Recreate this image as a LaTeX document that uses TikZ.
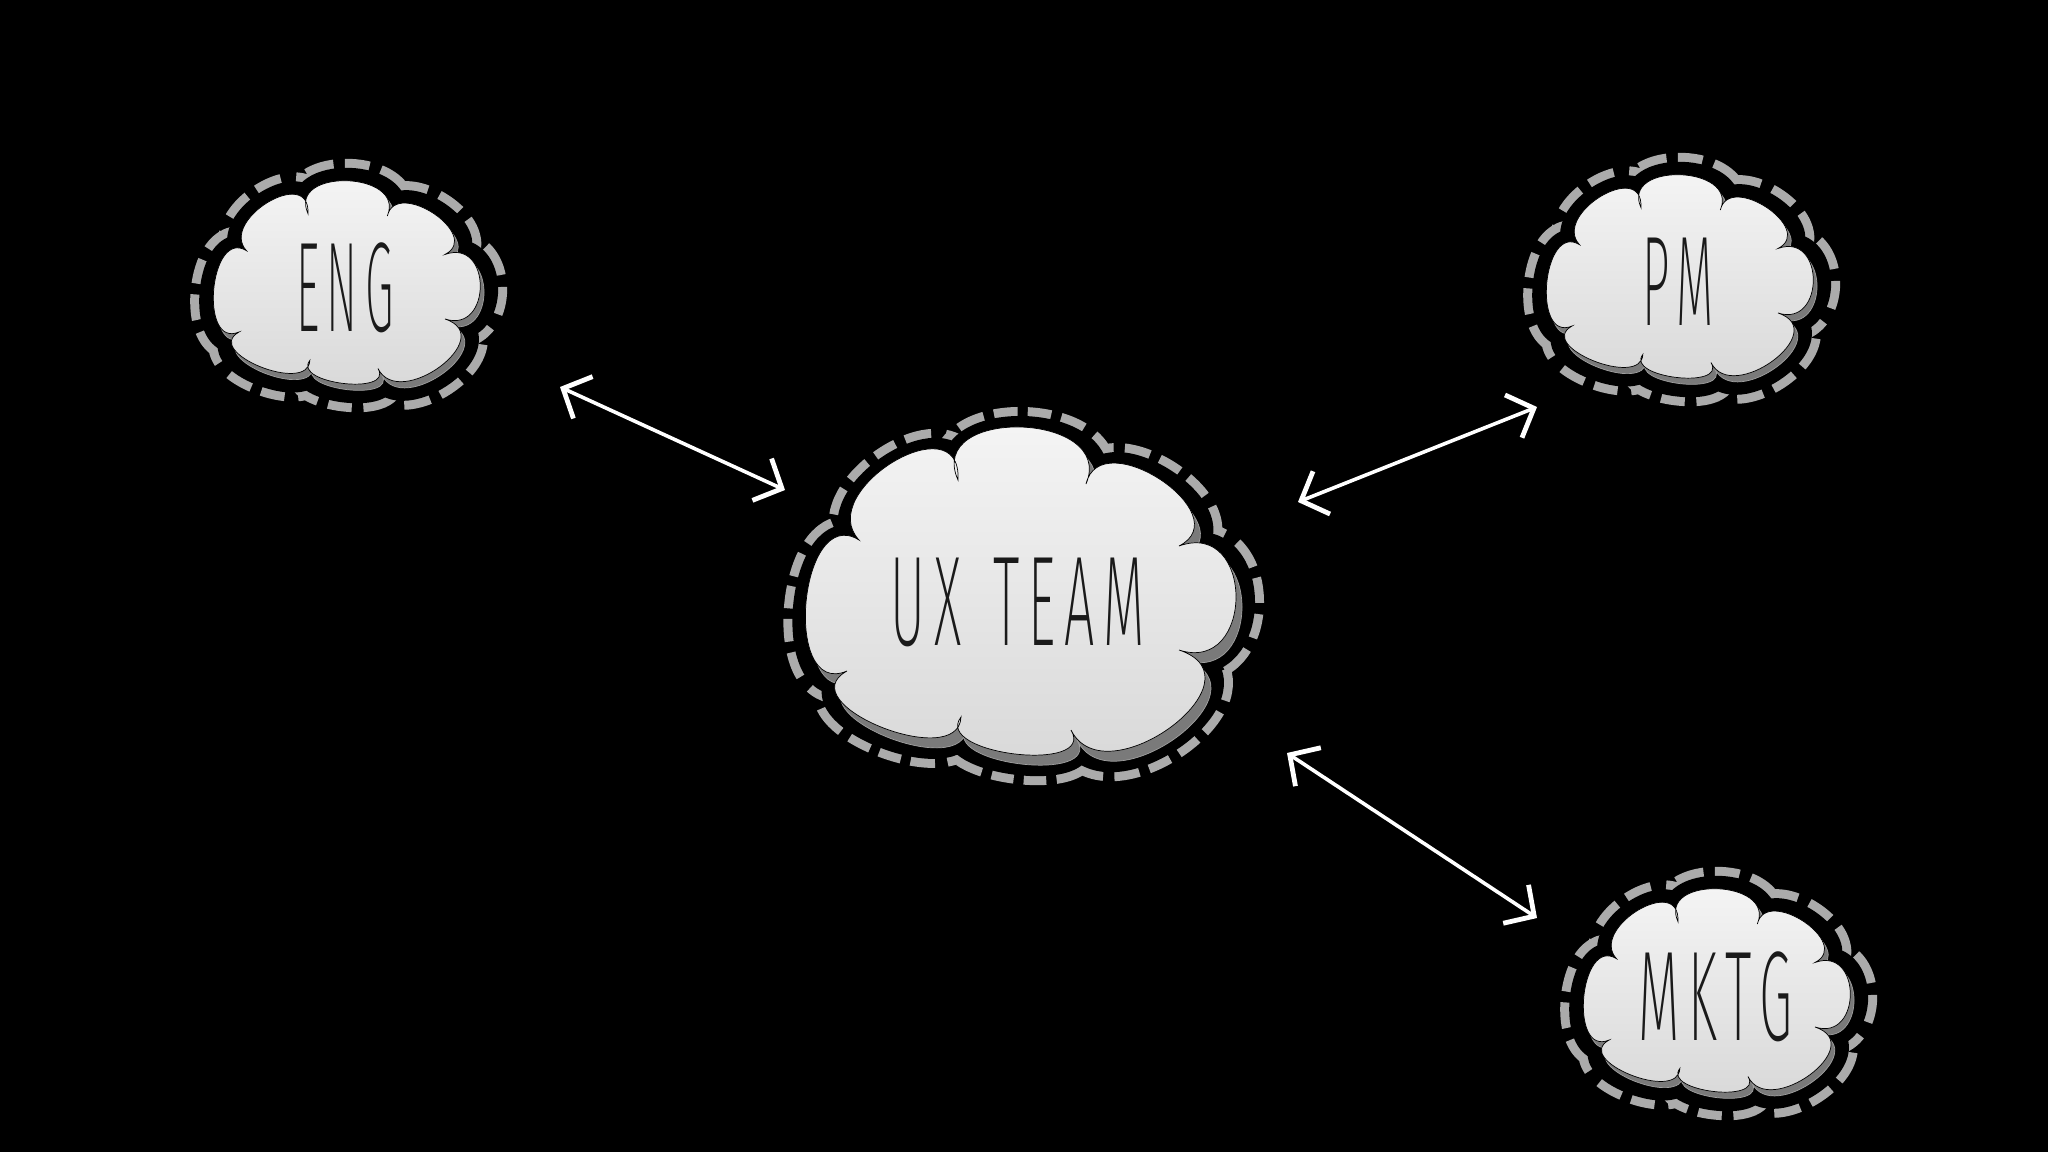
\documentclass[tikz,border=0pt]{standalone}
\usepackage{fontspec}
\newfontfamily\handfont{Fira Sans ExtraLight}[FakeStretch=0.42, LetterSpace=7]
\usetikzlibrary{arrows.meta}
\definecolor{ringgray}{HTML}{ABABAB}
\definecolor{shadowgray}{HTML}{7A7A7A}
\definecolor{bodytop}{HTML}{F6F6F6}
\definecolor{bodybot}{HTML}{D6D6D6}
\definecolor{inkblack}{HTML}{1A1A1A}
\def\cloudshape{(-162,-52) .. controls (-207.4,-101.0) and (-58.9,-191.0) .. (-63,-112)
 .. controls (-96.3,-186.3) and (95.7,-180.3) .. (65,-108)
 .. controls (79.7,-170.2) and (219.2,-77.2) .. (158,-46)
 .. controls (234.0,-73.3) and (234.0,82.7) .. (158,58)
 .. controls (246.3,87.3) and (84.3,207.3) .. (50,138)
 .. controls (76.2,181.9) and (-88.8,162.4) .. (-60,125)
 .. controls (-62.2,180.5) and (-233.2,111.5) .. (-174,79)
 .. controls (-239.6,107.1) and (-221.6,-89.4) .. (-162,-52) -- cycle}
\tikzset{
  cloudpic/.pic={
    \draw[ringgray, line width=2.5cm, dash pattern=on 1.0cm off 0.45cm, line join=round, shift={(3,5)}] \cloudshape;
    \draw[black, line width=1.6cm, line join=round, shift={(3,5)}] \cloudshape;
    \filldraw[fill=shadowgray, draw=gray!75, line width=1pt, shift={(6,10)}] \cloudshape;
    \path[top color=bodytop, bottom color=bodybot, draw=black, line width=1pt] \cloudshape;
  },
  lbl/.style={font=\handfont\fontsize{182}{182}\selectfont, text=inkblack, inner sep=0pt},
  twoway/.style={draw=white, line width=0.18cm, line cap=round, line join=round,
    arrows={Straight Barb[length=1.1cm, width=2.3cm, line width=0.24cm]-Straight Barb[length=1.1cm, width=2.3cm, line width=0.24cm]}}
}
\begin{document}
\begin{tikzpicture}[x=0.05cm, y=-0.05cm]
\fill[black] (0,0) rectangle (2048,1152);
\useasboundingbox (0,0) rectangle (2048,1152);

\pic at (1021,592) {cloudpic};
\pic[scale=0.62] at (347,283) {cloudpic};
\pic[scale=0.62] at (1680,277) {cloudpic};
\pic[scale=0.62] at (1717,991) {cloudpic};

\node[lbl] (ux) at (1018,602) {UX\hspace{1.6cm}TEAM};
\node[lbl] (eng) at (345,288) {\scalebox{0.86}[1]{ENG}};
\node[lbl] (pm) at (1678,282) {\scalebox{0.9}[1]{PM}};
\node[lbl] (mktg) at (1715,997) {MKTG};

\coordinate (engA) at (560,387);
\coordinate (uxA) at (785,490);
\coordinate (uxB) at (1298,502);
\coordinate (pmA) at (1537,407);
\coordinate (uxC) at (1287,753);
\coordinate (mktgA) at (1537,918);

\draw[twoway] (engA) -- (uxA);
\draw[twoway] (uxB) -- (pmA);
\draw[twoway] (uxC) -- (mktgA);
\end{tikzpicture}
\end{document}
